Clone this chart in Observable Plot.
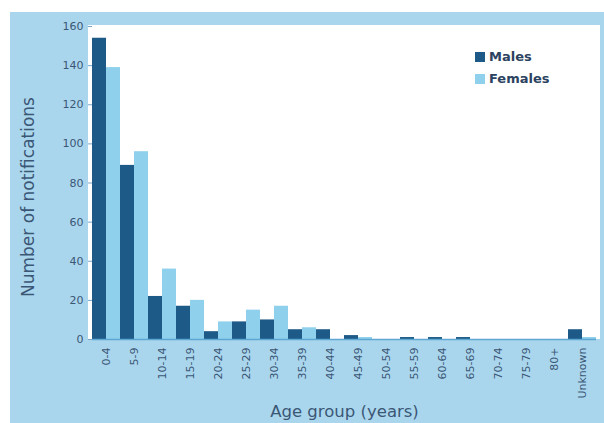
<!DOCTYPE html>
<html>
<head>
<meta charset="utf-8">
<script src="https://cdn.jsdelivr.net/npm/d3@7"></script>
<script src="https://cdn.jsdelivr.net/npm/@observablehq/plot@0.6"></script>
<style>
  html, body { margin: 0; padding: 0; background: #ffffff; }
  #wrap { position: relative; width: 604px; height: 423px; overflow: hidden; font-family: "DejaVu Sans", sans-serif; }
  #outer { position: absolute; left: 10px; top: 12px; right: 0; bottom: 0; background: #aad6ed; }
  #inner { position: absolute; left: 88px; top: 25px; width: 512px; height: 314px; background: #ffffff; }
  #chart { position: absolute; left: 0; top: 0; }
  #legend { position: absolute; left: 475px; top: 46px; font-size: 13px; font-weight: bold; color: #2b4260; line-height: 22px; }
  #legend .sw { display: inline-block; width: 10px; height: 10px; margin-right: 4px; vertical-align: -1px; }
</style>
</head>
<body>
<div id="wrap">
  <div id="outer"></div>
  <div id="inner"></div>
  <div id="chart"></div>
  <div id="legend"></div>
</div>
<script>
const ages = ["0-4","5-9","10-14","15-19","20-24","25-29","30-34","35-39","40-44","45-49","50-54","55-59","60-64","65-69","70-74","75-79","80+","Unknown"];
const males   = [154, 89, 22, 17, 4,  9, 10, 5, 5, 2, 0, 1, 1, 1, 0, 0, 0, 5];
const females = [139, 96, 36, 20, 9, 15, 17, 6, 0, 1, 0, 0, 0, 0, 0, 0, 0, 1];
const sexes = ["Males", "Females"];
const sexColors = ["#1d5a87", "#8fd1ec"];
const yTicks = [0, 20, 40, 60, 80, 100, 120, 140, 160];

const data = ages.flatMap((a, i) => [
  {age: a, sex: "Males", value: males[i]},
  {age: a, sex: "Females", value: females[i]}
]);

const chart = Plot.plot({
  width: 604,
  height: 423,
  marginLeft: 87,
  marginRight: 3,
  marginTop: 26,
  marginBottom: 84,
  style: {background: "transparent", fontFamily: "DejaVu Sans", color: "#3b5776"},
  fx: {domain: ages, padding: 0},
  x: {domain: sexes, padding: 0, axis: null},
  y: {domain: [0, 160]},
  color: {domain: sexes, range: sexColors},
  marks: [
    Plot.barY(data, {fx: "age", x: "sex", y: "value", fill: "sex", inset: 0}),
    Plot.ruleY([0], {stroke: "#5ea7d2", strokeWidth: 1.5}),
    Plot.axisY({ticks: yTicks, tickSize: 4, tickPadding: 5, fontSize: 11, stroke: "#7aa3c4",
      label: "Number of notifications", labelArrow: "none", labelAnchor: "center", labelOffset: 71}),
    Plot.axisFx({anchor: "bottom", tickRotate: -90, tickSize: 0, tickPadding: 8, fontSize: 11,
      label: "Age group (years)", labelArrow: "none", labelAnchor: "center", labelOffset: 77})
  ]
});

// enlarge axis titles
chart.querySelectorAll("text").forEach(t => {
  const s = t.textContent;
  if (s.includes("Number of notifications")) {
    t.setAttribute("font-size", "17");
    t.setAttribute("x", "-14");
  } else if (s.includes("Age group (years)")) {
    t.setAttribute("font-size", "16.5");
  }
});
document.getElementById("chart").appendChild(chart);

const legend = document.getElementById("legend");
sexes.forEach((s, i) => {
  const row = document.createElement("div");
  const sw = document.createElement("span");
  sw.className = "sw";
  sw.style.background = sexColors[i];
  row.appendChild(sw);
  row.appendChild(document.createTextNode(s));
  legend.appendChild(row);
});
</script>
</body>
</html>
